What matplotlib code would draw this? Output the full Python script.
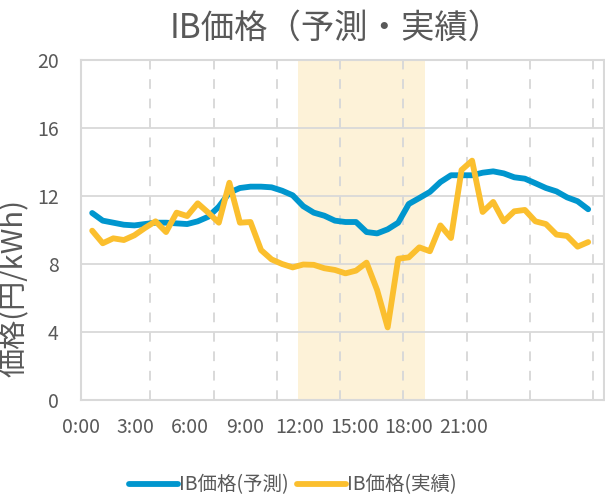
import numpy as np
import matplotlib
matplotlib.use("Agg")
import matplotlib.pyplot as plt
from matplotlib.ticker import FixedLocator

plt.rcParams['font.family'] = ['Noto Sans CJK JP', 'DejaVu Sans']

# 30-minute slots, 0:00 .. 23:30
slots = np.arange(48)
hour_labels = ["0:00", "3:00", "6:00", "9:00", "12:00", "15:00", "18:00", "21:00"]

forecast = [11.0, 10.55, 10.43, 10.31, 10.27, 10.35, 10.43, 10.43, 10.39, 10.35,
            10.51, 10.78, 11.37, 12.2, 12.47, 12.55, 12.55, 12.51, 12.31, 12.04,
            11.4, 11.02, 10.84, 10.55, 10.47, 10.47, 9.88, 9.8, 10.04, 10.43,
            11.53, 11.88, 12.24, 12.82, 13.22, 13.22, 13.22, 13.37, 13.45, 13.33,
            13.1, 13.02, 12.75, 12.47, 12.27, 11.92, 11.69, 11.22]

actual = [9.96, 9.22, 9.51, 9.41, 9.69, 10.12, 10.51, 9.88, 11.02, 10.82,
          11.57, 11.02, 10.43, 12.78, 10.43, 10.47, 8.82, 8.27, 8.0, 7.8,
          7.97, 7.95, 7.75, 7.65, 7.45, 7.61, 8.08, 6.47, 4.27, 8.31,
          8.39, 8.98, 8.75, 10.27, 9.53, 13.53, 14.08, 11.06, 11.65, 10.51,
          11.1, 11.18, 10.51, 10.35, 9.73, 9.65, 9.02, 9.29]

# highlighted daytime window (hours)
band = (10, 16)

blue = '#0096CE'
yellow = '#FBBF2E'
grid_c = '#D9D9D9'
text_c = '#595959'

# each slot sits in the middle of its half-hour bin
x = (slots + 0.5) * 0.5

fig = plt.figure(figsize=(6.05, 4.95), dpi=100)
ax = fig.add_axes([81 / 605, 1 - 400 / 495, 523 / 605, 340 / 495])

ax.axvspan(band[0], band[1], color='#FDF2D8', lw=0, zorder=0)
ax.plot(x, forecast, color=blue, lw=4.2, solid_capstyle='round',
        solid_joinstyle='round', label='IB価格(予測)', zorder=3)
ax.plot(x, actual, color=yellow, lw=4.2, solid_capstyle='round',
        solid_joinstyle='round', label='IB価格(実績)', zorder=3)

ax.set_xlim(0, 24.5)
ax.set_ylim(0, 20)
ax.set_yticks(np.arange(0, 21, 4))

# dashed verticals every 3 h, labels sit on their own spacing
ax.xaxis.set_minor_locator(FixedLocator(np.arange(3, 25, 3)))
ax.set_xticks(np.linspace(-0.28, 17.85, len(hour_labels)), hour_labels)
ax.set_axisbelow(True)
ax.grid(axis='y', which='major', color=grid_c, lw=1.3)
ax.grid(axis='x', which='minor', color=grid_c, lw=1.4, ls=(0, (5, 5)))
ax.tick_params(axis='both', which='both', length=0, labelsize=14,
               labelcolor=text_c)
ax.tick_params(axis='y', pad=16)
ax.tick_params(axis='x', pad=12)

for sp in ax.spines.values():
    sp.set_color(grid_c)
    sp.set_linewidth(1.5)

ax.set_ylabel('価格(円/kWh)', fontsize=21, color=text_c)
ax.yaxis.set_label_coords(-0.097, 0.33)

fig.text(336 / 605, 1 - 28 / 495, 'IB価格（予測・実績）', fontsize=24,
         color=text_c, ha='center', va='center')

fig.legend(loc='center', bbox_to_anchor=(293 / 605, 1 - 485 / 495), ncol=2,
           frameon=False, fontsize=14, handlelength=2.5, handletextpad=0.1,
           columnspacing=0.4, labelcolor=text_c)

fig.savefig('out.png', dpi=100)
